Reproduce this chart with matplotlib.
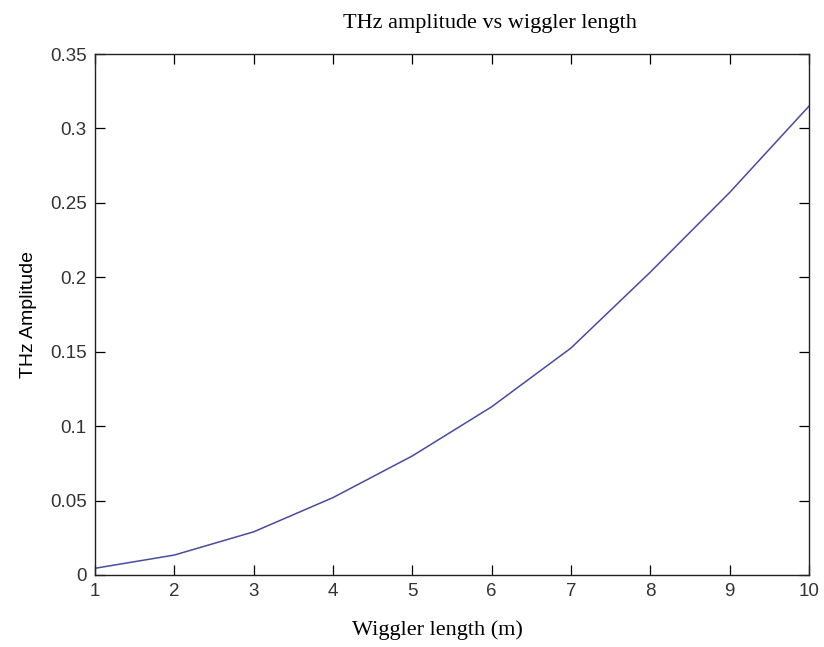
import numpy as np
import matplotlib.pyplot as plt

# wiggler length (m) and THz amplitude
wiggler_len = [1, 2, 3, 4, 5, 6, 7, 8, 9, 10]
thz_amp = [0.0045, 0.0134, 0.029, 0.052, 0.080, 0.113, 0.1525, 0.2035, 0.257, 0.315]

fig = plt.figure(figsize=(8.24, 6.47), dpi=100)
ax = fig.add_axes([0.1153, 0.1113, 0.8665, 0.8052])
ax.plot(wiggler_len, thz_amp, color='#4a4aa0', lw=1.1)

ax.set_xlim(1, 10)
ax.set_ylim(0, 0.35)
ax.set_xticks(range(1, 11))
ax.set_yticks(np.arange(0, 0.351, 0.05))
ax.set_yticklabels(['0', '0.05', '0.1', '0.15', '0.2', '0.25', '0.3', '0.35'])
ax.tick_params(direction='in', top=True, right=True, length=7, width=0.9,
               labelsize=13.5, pad=6)
for lab in ax.get_xticklabels() + ax.get_yticklabels():
    lab.set_family('Liberation Sans')
    lab.set_color('#333333')
for s in ax.spines.values():
    s.set_linewidth(1.0)
    s.set_color('#222222')

ax.set_title('THz amplitude vs wiggler length', family='Liberation Serif',
             fontsize=16, pad=19, x=0.553)
ax.set_xlabel('Wiggler length (m)', family='Liberation Serif', fontsize=16,
              labelpad=14, x=0.48)
ax.set_ylabel('THz Amplitude', family='Liberation Sans', fontsize=14, labelpad=9)

plt.savefig('out.png', dpi=100)
plt.close()
